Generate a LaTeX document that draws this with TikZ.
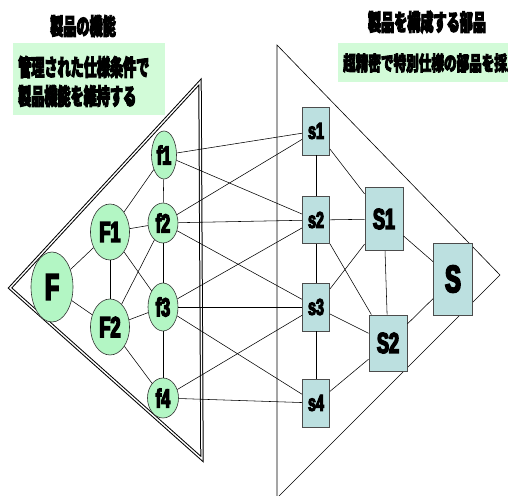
\documentclass[tikz,border=0pt]{standalone}
\usepackage{fontspec}
\usetikzlibrary{shapes.geometric}
\newfontfamily\lab[FakeStretch=0.62,FakeBold=5]{Liberation Sans Bold}
\newfontfamily\cjk[FakeStretch=0.57,FakeBold=4]{Noto Sans CJK JP Black}
\newfontfamily\cjkn[FakeStretch=0.63,FakeBold=4]{Noto Sans CJK JP Black}
\definecolor{ellg}{HTML}{B3F6C4}
\definecolor{boxc}{HTML}{BCE0E0}
\definecolor{lblg}{HTML}{D2FBD8}
\tikzset{
  fn/.style={ellipse, draw=black!80, fill=ellg, inner sep=0pt, line width=0.6pt},
  sn/.style={rectangle, draw=black!70, fill=boxc, inner sep=0pt, line width=0.9pt},
  wire/.style={line width=0.55pt, black},
  title/.style={font=\cjk\fontsize{23}{23}\selectfont, inner sep=0pt},
}
\begin{document}
\begin{tikzpicture}[x=1pt,y=-1pt]
\useasboundingbox (0,0) rectangle (508,495);
% triangles
\draw[line width=1pt, double=white, double distance=1.4pt, line join=miter] (10,288) -- (200,82) -- (202,459) -- cycle;
\draw[line width=0.6pt] (277,45) -- (500,275) -- (277,498) -- cycle;
% titles
\node[title] (tl) at (83,26) {製品の機能};
\node[title] (tr) at (427,22) {製品を構成する部品};
\node[fill=lblg, minimum width=152pt, minimum height=72pt, inner sep=0pt] (lbox) at (89,79) {};
\node[title, anchor=west] (l1) at (18,67) {管理された仕様条件で};
\node[title, anchor=west] (l2) at (18,96) {製品機能を維持する};
\begin{scope}
\clip (0,0) rectangle (508,495);
\node[fill=lblg, minimum width=190pt, minimum height=39pt, inner sep=0pt, anchor=west] (rbox) at (338,62.5) {};
\node[font=\cjkn\fontsize{20}{20}\selectfont, inner sep=0pt, anchor=west] (r1) at (343,63) {超精密で特別仕様の部品を採用};
\end{scope}
% function nodes
\node[fn, minimum width=42pt, minimum height=70pt, font=\lab\fontsize{37}{37}\selectfont] (F) at (52,287) {F};
\node[fn, minimum width=39pt, minimum height=56pt, font=\lab\fontsize{29}{29}\selectfont] (F1) at (110,232) {F1};
\node[fn, minimum width=39pt, minimum height=56pt, font=\lab\fontsize{29}{29}\selectfont] (F2) at (110,327) {F2};
\node[fn, minimum width=25pt, minimum height=48pt, font=\lab\fontsize{26}{26}\selectfont] (f1) at (164,155) {f1};
\node[fn, minimum width=30pt, minimum height=40pt, font=\lab\fontsize{26}{26}\selectfont] (f2) at (163,223) {f2};
\node[fn, minimum width=30pt, minimum height=48pt, font=\lab\fontsize{26}{26}\selectfont] (f3) at (163,307) {f3};
\node[fn, minimum width=31pt, minimum height=40pt, font=\lab\fontsize{26}{26}\selectfont] (f4) at (163,398) {f4};
% part nodes
\node[sn, minimum width=27pt, minimum height=48pt, font=\lab\fontsize{23}{23}\selectfont] (s1) at (316,131) {s1};
\node[sn, minimum width=27pt, minimum height=47pt, font=\lab\fontsize{23}{23}\selectfont] (s2) at (316,220) {s2};
\node[sn, minimum width=27pt, minimum height=48pt, font=\lab\fontsize{23}{23}\selectfont] (s3) at (316,307) {s3};
\node[sn, minimum width=27pt, minimum height=48pt, font=\lab\fontsize{23}{23}\selectfont] (s4) at (316,403) {s4};
\node[sn, minimum width=38pt, minimum height=63pt, font=\lab\fontsize{29}{29}\selectfont] (S1) at (384,219) {S1};
\node[sn, minimum width=38pt, minimum height=56pt, font=\lab\fontsize{29}{29}\selectfont] (S2) at (388,343) {S2};
\node[sn, minimum width=39pt, minimum height=72pt, font=\lab\fontsize{38}{38}\selectfont] (S) at (453,279) {S};
% connectors
\draw[wire] (F) -- (F1);
\draw[wire] (F) -- (F2);
\draw[wire] (F1) -- (F2);
\draw[wire] (F1) -- (f1);
\draw[wire] (F1) -- (f2);
\draw[wire] (F1) -- (f3);
\draw[wire] (F2) -- (f2);
\draw[wire] (F2) -- (f3);
\draw[wire] (F2) -- (f4);
\draw[wire] (f1) -- (f2);
\draw[wire] (f2) -- (f3);
\draw[wire] (f3) -- (f4);
\draw[wire] (f1) -- (s1);
\draw[wire] (f1) -- (s2);
\draw[wire] (f2) -- (s1);
\draw[wire] (f2) -- (s2);
\draw[wire] (f2) -- (s3);
\draw[wire] (f3) -- (s2);
\draw[wire] (f3) -- (s3);
\draw[wire] (f3) -- (s4);
\draw[wire] (f4) -- (s3);
\draw[wire] (f4) -- (s4);
\draw[wire] (s1) -- (s2);
\draw[wire] (s2) -- (s3);
\draw[wire] (s3) -- (s4);
\draw[wire] (s1) -- (S1);
\draw[wire] (s2) -- (S1);
\draw[wire] (s2) -- (S2);
\draw[wire] (s3) -- (S1);
\draw[wire] (s3) -- (S2);
\draw[wire] (s4) -- (S2);
\draw[wire] (S1) -- (S2);
\draw[wire] (S1) -- (S);
\draw[wire] (S2) -- (S);
\end{tikzpicture}
\end{document}
